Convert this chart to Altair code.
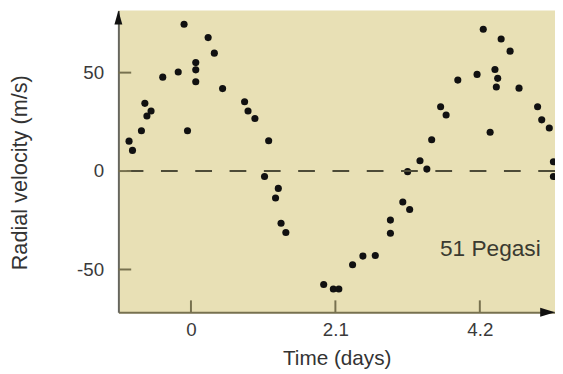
import altair as alt
import pandas as pd

# ---- data ----
time_days = [-0.90, -0.85, -0.72, -0.67, -0.64, -0.58, -0.41, -0.185, -0.10, -0.05,
             0.07, 0.07, 0.07, 0.25, 0.34, 0.46, 0.78, 0.83, 0.93, 1.13,
             1.07, 1.27, 1.23, 1.31, 1.38, 1.93, 2.07, 2.15, 2.35, 2.50,
             2.68, 2.90, 2.90, 3.08, 3.18, 3.15, 3.33, 3.43, 3.50, 3.63,
             3.71, 3.88, 4.16, 4.25, 4.35, 4.42, 4.46, 4.44, 4.51, 4.64,
             4.77, 5.04, 5.10, 5.21, 5.27, 5.27]
velocity = [15.2, 10.5, 20.5, 34.4, 28.0, 30.5, 47.7, 50.3, 74.6, 20.5,
            55.1, 51.4, 45.4, 67.8, 59.9, 41.9, 35.2, 30.5, 26.7, 15.4,
            -2.8, -8.8, -13.7, -26.5, -31.2, -57.6, -59.9, -59.9, -47.6, -43.2,
            -42.9, -24.9, -31.6, -15.7, -19.5, -0.3, 5.2, 1.0, 15.9, 32.7,
            28.5, 46.2, 49.1, 72.0, 19.7, 51.6, 47.1, 42.7, 67.1, 60.9,
            42.1, 32.7, 26.0, 21.9, 4.7, -2.8]
x_ticks = [0, 2.1, 4.2]
y_ticks = [-50, 0, 50]
x_domain = [-1.055, 5.293]
y_domain = [-71.7, 81.5]
star_name = ["51 Pegasi"]
star_x = [3.62]
star_y = [-43.0]
zero_line = [0]

FONT = "Liberation Sans, Arial, Helvetica, sans-serif"
BG = "#e8e0b5"
OLIVE = "#77714f"
W, H = 443, 306

pts = pd.DataFrame({"t": time_days, "v": velocity})
xs = alt.Scale(domain=x_domain, nice=False, zero=False)
ys = alt.Scale(domain=y_domain, nice=False, zero=False)

x_axis = alt.Axis(values=x_ticks, ticks=False, tickSize=0, grid=False,
                  labelExpr="'' + datum.value", labelFontSize=19, labelFont=FONT,
                  labelColor="#3a3a3a", labelBaseline="alphabetic", labelPadding=24,
                  domainColor=OLIVE, domainWidth=2,
                  title="Time (days)", titleFont=FONT, titleFontSize=21,
                  titleFontWeight="normal", titleColor="#333333",
                  titleBaseline="alphabetic", titleY=53)
y_axis = alt.Axis(values=y_ticks, ticks=False, tickSize=0, grid=False,
                  labelExpr="'' + datum.value", labelFontSize=19, labelFont=FONT,
                  labelColor="#3a3a3a", labelPadding=15,
                  domainColor="#66665e", domainWidth=2,
                  title="Radial velocity (m/s)", titleFont=FONT, titleFontSize=22,
                  titleFontWeight="normal", titleColor="#333333",
                  titleBaseline="alphabetic", titleAngle=270, titleX=-93, titleY=164)


def X(field="t"):
    return alt.X(f"{field}:Q", scale=xs, axis=x_axis)


def Y(field="v"):
    return alt.Y(f"{field}:Q", scale=ys, axis=y_axis)


dots = alt.Chart(pts).mark_circle(size=52, color="#111111", opacity=1, clip=True).encode(
    x=X(), y=Y())

zero = alt.Chart(pd.DataFrame({"v": zero_line})).mark_rule(
    color="#4d4b37", strokeWidth=2, strokeDash=[17, 17.8]
).encode(y=Y())

xt = alt.Chart(pd.DataFrame({"t": x_ticks})).mark_rule(color=OLIVE, strokeWidth=2).encode(
    x=X(), y=alt.value(H), y2=alt.value(H - 12))
yt = alt.Chart(pd.DataFrame({"v": y_ticks})).mark_rule(color=OLIVE, strokeWidth=2).encode(
    y=Y(), x=alt.value(0), x2=alt.value(13))

label = alt.Chart(pd.DataFrame({"t": star_x, "v": star_y, "s": star_name})).mark_text(
    align="left", baseline="alphabetic", fontSize=23, font=FONT, color="#3a3a30"
).encode(x=X(), y=Y(), text="s:N")

up_arrow = alt.Chart(pd.DataFrame({"t": [x_domain[0]], "v": [y_domain[1]]})).mark_point(
    shape="M0,0L-0.8,2.8L0.8,2.8Z", filled=True, size=100, color="#111111", opacity=1
).encode(x=X(), y=Y())
right_arrow = alt.Chart(pd.DataFrame({"t": [x_domain[1]], "v": [y_domain[0]]})).mark_point(
    shape="M0,0L-3,-0.9L-3,0.9Z", filled=True, size=100, color="#111111", opacity=1
).encode(x=X(), y=Y())

chart = alt.layer(dots, zero, xt, yt, label, up_arrow, right_arrow).properties(
    width=W, height=H,
    autosize=alt.AutoSizeParams(type="none"),
    padding={"left": 112, "top": 0, "right": 0, "bottom": 57},
    background="white",
).configure_view(fill=BG, stroke=None)

chart.save("out.html", embed_options={"renderer": "svg", "actions": False})
